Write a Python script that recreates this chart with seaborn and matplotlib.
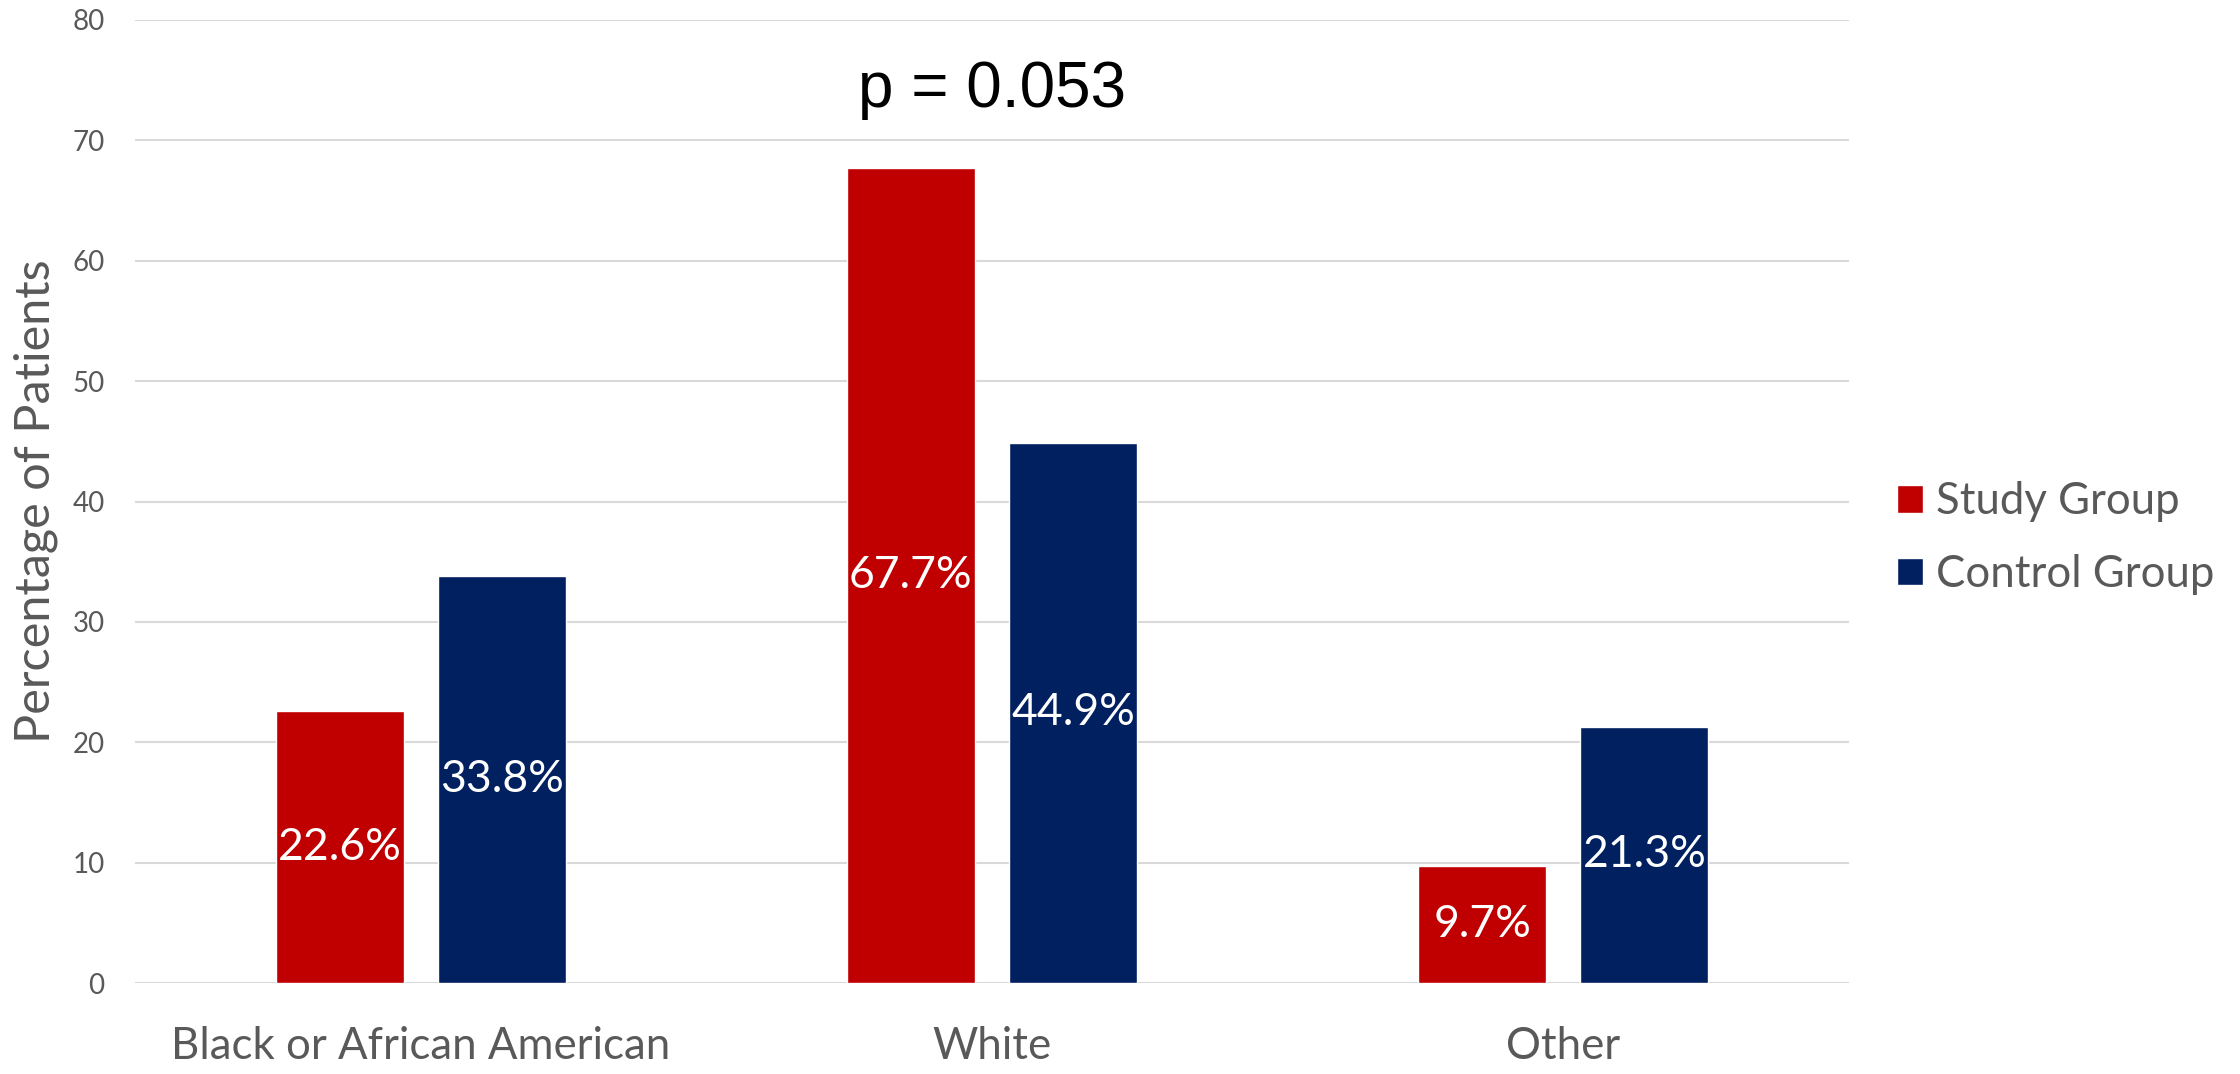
import matplotlib
matplotlib.use('Agg')
import matplotlib.pyplot as plt
import seaborn as sns
import pandas as pd

# values
categories = ['Black or African American', 'White', 'Other']
groups = ['Study Group', 'Control Group']
study_pct = [22.6, 67.7, 9.7]
control_pct = [33.8, 44.9, 21.3]
colors = ['#C00000', '#002060']
p_text = 'p = 0.053'

df = pd.DataFrame({
    'race': categories * 2,
    'group': [groups[0]] * 3 + [groups[1]] * 3,
    'pct': study_pct + control_pct,
})

sns.set_style('white')
plt.rcParams['font.family'] = ['Lato', 'DejaVu Sans']

fig = plt.figure(figsize=(22.4, 10.74), dpi=100)
ax = fig.add_axes([0.0603, 0.0847, 0.7651, 0.8967])

sns.barplot(data=df, x='race', y='pct', hue='group', palette=colors,
            width=0.568, gap=0.21, saturation=1, ax=ax, legend=True)

# data labels in the middle of each bar
for cont in ax.containers:
    ax.bar_label(cont, fmt='%.1f%%', label_type='center', color='white', fontsize=32)

ax.set_ylim(0, 80)
ax.set_yticks(range(0, 81, 10))
ax.yaxis.grid(True, color='#D9D9D9', linewidth=1.5)
ax.set_axisbelow(True)
sns.despine(ax=ax, left=True, bottom=True)
ax.tick_params(axis='y', length=0, pad=22, labelsize=20, labelcolor='#595959')
ax.tick_params(axis='x', length=0, pad=31, labelsize=31.5, labelcolor='#595959')
ax.set_xlabel('')
ax.set_ylabel('Percentage of Patients', fontsize=35, color='#595959')
ax.yaxis.set_label_coords(-0.045, 0.5)

ax.text(1, 72.8, p_text, ha='center', va='baseline', fontsize=46,
        family='Liberation Sans', color='black')

ax.legend(loc='center left', bbox_to_anchor=(0.8469, 0.499), bbox_transform=fig.transFigure,
          frameon=False, fontsize=31.5, labelcolor='#595959', handlelength=0.6,
          handleheight=0.6, handletextpad=0.3, labelspacing=0.72,
          borderpad=0, borderaxespad=0)

fig.savefig('out.png', dpi=100)
